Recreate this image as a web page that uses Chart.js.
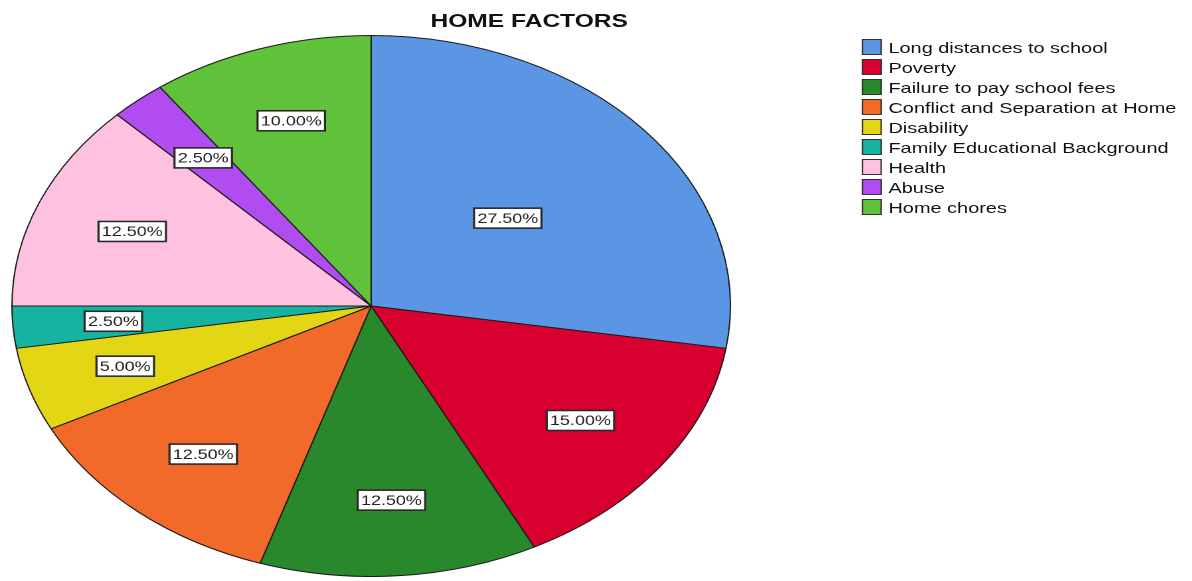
<!DOCTYPE html>
<html>
<head>
<meta charset="utf-8">
<title>Home factors</title>
<script src="https://cdn.jsdelivr.net/npm/chart.js@4.4.1/dist/chart.umd.min.js"></script>
<style>
  html, body { margin: 0; padding: 0; background: #fff; overflow: hidden; }
  /* the reference is a round SPSS pie stretched sideways, so the whole stage is stretched the same way */
  #stage { position: relative; width: 898px; height: 581px; transform: scaleX(1.328); transform-origin: 0 0;
           font-family: 'Liberation Sans', Arial, sans-serif; color: #111; }
  #title { position: absolute; left: 0; width: 797px; top: 10px; text-align: center; font-size: 18.5px; font-weight: bold; }
  #pieBox { position: absolute; left: 0; top: 35px; width: 559px; height: 542px; }
  #legend { position: absolute; left: 649px; top: 38px; margin: 0; padding: 0; list-style: none; font-size: 15px; }
  #legend li { height: 20px; line-height: 19px; white-space: nowrap; }
  #legend span { display: inline-block; width: 13px; height: 14px; border: 1px solid #333; vertical-align: -2px; margin-right: 5px; }
</style>
</head>
<body>
<div id="stage">
  <div id="title">HOME FACTORS</div>
  <div id="pieBox"><canvas id="homeChart"></canvas></div>
  <ul id="legend"></ul>
</div>
<script>
  var categories = ['Long distances to school', 'Poverty', 'Failure to pay school fees',
    'Conflict and Separation at Home', 'Disability', 'Family Educational Background',
    'Health', 'Abuse', 'Home chores'];
  var percents = [27.5, 15, 12.5, 12.5, 5, 2.5, 12.5, 2.5, 10];
  var colors = ['#5A96E3', '#D7002E', '#2A882C', '#F26A2A', '#E3D715', '#16B3A0', '#FFC1E0', '#B14CF0', '#5FC23A'];

  var legend = document.getElementById('legend');
  categories.forEach(function (c, i) {
    var li = document.createElement('li');
    var sw = document.createElement('span');
    sw.style.background = colors[i];
    li.appendChild(sw);
    li.appendChild(document.createTextNode(c));
    legend.appendChild(li);
  });

  // boxed percentage labels, like SPSS
  var sliceLabels = {
    id: 'sliceLabels',
    afterDatasetsDraw: function (chart) {
      var ctx = chart.ctx;
      var meta = chart.getDatasetMeta(0);
      ctx.save();
      ctx.font = "13.5px 'Liberation Sans', Arial, sans-serif";
      ctx.textAlign = 'center';
      ctx.textBaseline = 'middle';
      meta.data.forEach(function (arc, i) {
        var p = arc.getProps(['x', 'y', 'startAngle', 'endAngle', 'outerRadius'], true);
        var mid = (p.startAngle + p.endAngle) / 2;
        var frac = percents[i] > 20 ? 0.5 : 0.72;
        var lx = p.x + Math.cos(mid) * p.outerRadius * frac;
        var ly = p.y + Math.sin(mid) * p.outerRadius * frac;
        var txt = percents[i].toFixed(2) + '%';
        var w = ctx.measureText(txt).width + 5;
        var h = 20;
        ctx.fillStyle = '#fff';
        ctx.fillRect(lx - w / 2, ly - h / 2, w, h);
        ctx.lineWidth = 1.6;
        ctx.strokeStyle = '#2a2a2a';
        ctx.strokeRect(lx - w / 2, ly - h / 2, w, h);
        ctx.fillStyle = '#222';
        ctx.fillText(txt, lx, ly + 1);
      });
      ctx.restore();
    }
  };

  new Chart(document.getElementById('homeChart'), {
    type: 'pie',
    data: {
      labels: categories,
      datasets: [{
        data: percents,
        backgroundColor: colors,
        borderColor: '#1a1a1a',
        borderWidth: 1
      }]
    },
    options: {
      responsive: true,
      maintainAspectRatio: false,
      devicePixelRatio: 2,
      animation: false,
      layout: { padding: 0 },
      plugins: {
        legend: { display: false },
        title: { display: false },
        tooltip: { enabled: false }
      }
    },
    plugins: [sliceLabels]
  });
</script>
</body>
</html>
